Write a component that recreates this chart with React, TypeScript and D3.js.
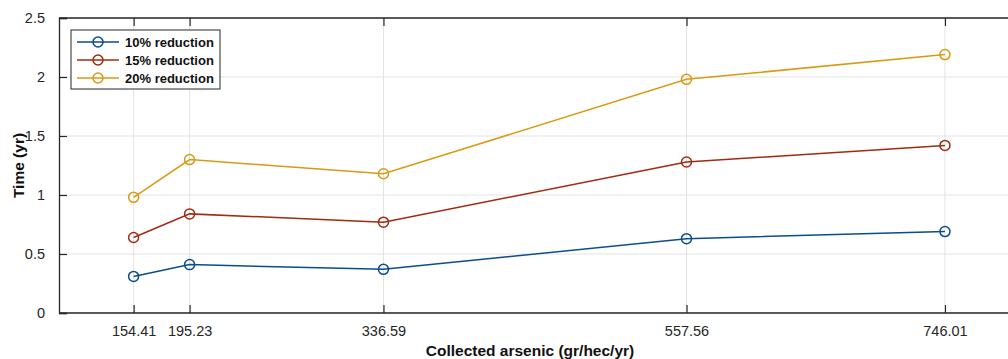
import React, { useRef, useEffect } from 'react';
import * as d3 from 'd3';

const arsenic = [154.41, 195.23, 336.59, 557.56, 746.01];
const reduction10 = [0.31, 0.41, 0.37, 0.63, 0.69];
const reduction15 = [0.64, 0.84, 0.77, 1.28, 1.42];
const reduction20 = [0.98, 1.30, 1.18, 1.98, 2.19];
const seriesNames = ['10% reduction', '15% reduction', '20% reduction'];
const seriesColors = ['#0b4c8c', '#a12a10', '#d99a12'];
const yTicks = [0, 0.5, 1, 1.5, 2, 2.5];

const App = () => {
    const ref = useRef<SVGSVGElement>(null);

    useEffect(() => {
        const root = d3.select(ref.current);
        root.selectAll("*").remove();

        const width = 1008, height = 359;
        const margin = { top: 18, left: 59, bottom: 46 };
        const plotBottom = height - margin.bottom;

        const x = d3.scaleLinear().domain([100, 800]).range([margin.left, 1019]);
        const y = d3.scaleLinear().domain([0, 2.5]).range([plotBottom, margin.top]);

        const svg = root.attr("width", width).attr("height", height);
        svg.append("rect").attr("width", width).attr("height", height).attr("fill", "#fff");

        const font = "Arial, 'Liberation Sans', sans-serif";

        // grid
        const grid = svg.append("g").attr("stroke", "#e3e3e3").attr("stroke-width", 1);
        arsenic.forEach(v => {
            grid.append("line").attr("x1", x(v)).attr("x2", x(v)).attr("y1", margin.top).attr("y2", plotBottom);
        });
        yTicks.forEach(v => {
            grid.append("line").attr("x1", margin.left).attr("x2", width).attr("y1", y(v)).attr("y2", y(v));
        });

        // axes (MATLAB style, ticks inward)
        const xAxis = d3.axisBottom(x).tickValues(arsenic).tickSize(-8).tickPadding(13)
            .tickFormat(d => (d as number).toFixed(2));
        const gx = svg.append("g").attr("transform", `translate(0, ${plotBottom})`).call(xAxis);
        gx.select(".domain").remove();
        gx.append("line").attr("x1", margin.left).attr("x2", width).attr("stroke", "#262626").attr("stroke-width", 1.3);

        const topAxis = d3.axisTop(x).tickValues(arsenic).tickSize(-8).tickFormat(() => "");
        const gt = svg.append("g").attr("transform", `translate(0, ${margin.top})`).call(topAxis);
        gt.select(".domain").remove();
        gt.append("line").attr("x1", margin.left).attr("x2", width).attr("stroke", "#262626").attr("stroke-width", 1.3);

        const yAxis = d3.axisLeft(y).tickValues(yTicks).tickSize(-8).tickPadding(14)
            .tickFormat(d => d3.format("")(d as number));
        const gy = svg.append("g").attr("transform", `translate(${margin.left}, 0)`).call(yAxis);
        gy.select(".domain").attr("stroke", "#262626").attr("stroke-width", 1.3);

        [gx, gt, gy].forEach(g => {
            g.selectAll(".tick line").attr("stroke", "#262626").attr("stroke-width", 1.2);
            g.selectAll("text").attr("fill", "#262626").style("font-family", font).style("font-size", "14.5px");
        });

        // lines
        const allSeries = [reduction10, reduction15, reduction20];
        const line = d3.line<number>().x((d, i) => x(arsenic[i])).y(d => y(d));
        allSeries.forEach((vals, i) => {
            svg.append("path").datum(vals)
                .attr("fill", "none")
                .attr("stroke", seriesColors[i])
                .attr("stroke-width", 1.5)
                .attr("d", line);
            svg.selectAll(null).data(vals).enter().append("circle")
                .attr("cx", (d, j) => x(arsenic[j]))
                .attr("cy", d => y(d))
                .attr("r", 5)
                .attr("fill", "none")
                .attr("stroke", seriesColors[i])
                .attr("stroke-width", 1.5);
        });

        // legend
        const lg = svg.append("g").attr("transform", "translate(71, 30)");
        lg.append("rect").attr("width", 149).attr("height", 59)
            .attr("fill", "#fff").attr("stroke", "#262626").attr("stroke-width", 1);
        seriesNames.forEach((name, i) => {
            const cy = 12 + i * 18;
            lg.append("line").attr("x1", 6).attr("x2", 48).attr("y1", cy).attr("y2", cy)
                .attr("stroke", seriesColors[i]).attr("stroke-width", 1.5);
            lg.append("circle").attr("cx", 27).attr("cy", cy).attr("r", 5)
                .attr("fill", "none").attr("stroke", seriesColors[i]).attr("stroke-width", 1.5);
            lg.append("text").attr("x", 54).attr("y", cy + 4.5).text(name)
                .style("font-family", font).style("font-size", "13px").style("font-weight", "bold")
                .attr("fill", "#111");
        });

        // axis labels
        svg.append("text").attr("x", 530).attr("y", 356).attr("text-anchor", "middle")
            .text("Collected arsenic (gr/hec/yr)")
            .style("font-family", font).style("font-size", "15.5px").style("font-weight", "bold").attr("fill", "#111");
        svg.append("text").attr("transform", `translate(24, ${(margin.top + plotBottom) / 2}) rotate(-90)`)
            .attr("text-anchor", "middle")
            .text("Time (yr)")
            .style("font-family", font).style("font-size", "15.5px").style("font-weight", "bold").attr("fill", "#111");
    }, []);

    return (
        <div style={{ position: 'absolute', left: 0, top: 0 }}>
            <svg ref={ref} style={{ display: 'block' }} />
        </div>
    );
};

export default App;
